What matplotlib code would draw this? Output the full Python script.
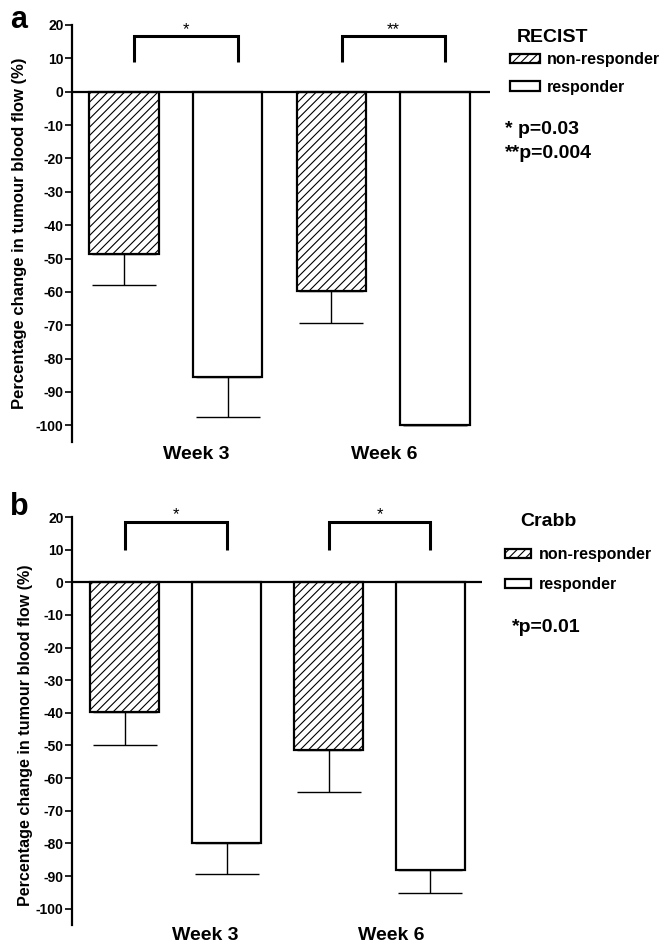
import matplotlib
matplotlib.use('Agg')
import matplotlib.pyplot as plt
import numpy as np

plt.rcParams['font.family'] = ['Liberation Sans', 'DejaVu Sans']
plt.rcParams['font.weight'] = 'bold'
plt.rcParams['hatch.linewidth'] = 0.8
plt.rcParams['axes.unicode_minus'] = False

weeks = ['Week 3', 'Week 6']
groups = ['non-responder', 'responder']
yticks = list(range(-100, 21, 10))

# panel a - RECIST
recist_nonresp = [-48.7, -59.7]
recist_nonresp_err = [9.2, 9.6]
recist_resp = [-85.5, -100.0]
recist_resp_err = [12.1, 0.0]
recist_stars = ['*', '**']
recist_pvals = ['* p=0.03', '**p=0.004']

# panel b - Crabb
crabb_nonresp = [-39.7, -51.3]
crabb_nonresp_err = [10.0, 12.8]
crabb_resp = [-79.8, -88.2]
crabb_resp_err = [9.5, 7.0]
crabb_stars = ['*', '*']
crabb_pvals = ['*p=0.01']


def draw_panel(ax, nonresp, nonresp_err, resp, resp_err, stars,
               xlim, br_top, br_leg, br_shift, week_shift, week_pad, ylabel_xy, ylabel_size):
    x = np.arange(len(weeks)) * 2.0
    w = 0.67
    zeros = np.zeros(len(x))
    ax.bar(x, nonresp, w, color='white', edgecolor='black', hatch='////',
           lw=1.6, label=groups[0], zorder=2)
    ax.bar(x + 1, resp, w, color='white', edgecolor='black',
           lw=1.6, label=groups[1], zorder=2)
    ax.errorbar(x, nonresp, yerr=[nonresp_err, zeros], fmt='none', ecolor='black',
                elinewidth=1.0, capsize=23, capthick=1.0, zorder=1)
    ax.errorbar(x + 1, resp, yerr=[resp_err, zeros], fmt='none', ecolor='black',
                elinewidth=1.0, capsize=23, capthick=1.0, zorder=1)
    ax.axhline(0, color='black', lw=1.6, zorder=3)

    # significance brackets
    for xi, s in zip(x, stars):
        x0, x1 = xi + br_shift, xi + 1 + br_shift
        ax.plot([x0, x0, x1, x1], [br_leg, br_top, br_top, br_leg], color='black',
                lw=2.2, clip_on=False, solid_capstyle='butt', solid_joinstyle='miter')
        ax.text((x0 + x1) / 2, br_top + 0.8, s, ha='center', va='baseline',
                fontsize=12, fontweight='normal', clip_on=False)

    ax.set_xlim(*xlim)
    ax.set_ylim(-105, 20)
    ax.set_yticks(yticks)
    ax.tick_params(axis='y', length=5, width=1.2, pad=1, labelsize=10)
    ax.set_xticks(x + 0.5 + np.array(week_shift))
    ax.set_xticklabels(weeks, fontsize=14, fontweight='bold')
    ax.tick_params(axis='x', length=0, pad=week_pad)
    for side in ['top', 'right', 'bottom']:
        ax.spines[side].set_visible(False)
    ax.spines['left'].set_linewidth(1.6)
    ax.set_ylabel('Percentage change in tumour blood flow (%)', fontsize=ylabel_size,
                  fontweight='bold')
    ax.yaxis.set_label_coords(*ylabel_xy)


W, H = 665, 946
fig = plt.figure(figsize=(W / 100, H / 100), dpi=100)
ax_a = fig.add_axes([72 / W, 1 - 442 / H, 418 / W, 417 / H])
ax_b = fig.add_axes([72 / W, 1 - 925 / H, 410 / W, 408 / H])

draw_panel(ax_a, recist_nonresp, recist_nonresp_err, recist_resp, recist_resp_err,
           recist_stars, (-0.5, 3.53), 16.6, 9.0, 0.1, [0.2, 0.01], 3.0,
           (-0.108, 0.5), 12)
draw_panel(ax_b, crabb_nonresp, crabb_nonresp_err, crabb_resp, crabb_resp_err,
           crabb_stars, (-0.515, 3.505), 18.4, 10.0, 0.0, [0.29, 0.12], 1.5,
           (-0.095, 0.466), 11.6)

# legends
ax_a.legend(loc='upper left', bbox_to_anchor=(510 / W, 1 - 52 / H),
            bbox_transform=fig.transFigure, frameon=False, borderpad=0,
            borderaxespad=0, handlelength=1.9, handleheight=0.55,
            handletextpad=0.4, labelspacing=0.8,
            prop=dict(weight='bold', size=11.5))
ax_b.legend(loc='upper left', bbox_to_anchor=(505 / W, 1 - 547 / H),
            bbox_transform=fig.transFigure, frameon=False, borderpad=0,
            borderaxespad=0, handlelength=1.6, handleheight=0.55,
            handletextpad=0.55, labelspacing=0.95,
            prop=dict(weight='bold', size=11.5))

fig.text(517 / W, 1 - 38 / H, 'RECIST', fontsize=14, fontweight='bold', va='center')
fig.text(505 / W, 1 - 129 / H, recist_pvals[0], fontsize=14, fontweight='bold', va='center')
fig.text(505 / W, 1 - 153 / H, recist_pvals[1], fontsize=14, fontweight='bold', va='center')
fig.text(520 / W, 1 - 521 / H, 'Crabb', fontsize=14, fontweight='bold', va='center')
fig.text(512 / W, 1 - 627 / H, crabb_pvals[0], fontsize=14, fontweight='bold', va='center')

fig.text(10 / W, 1 - 28 / H, 'a', fontsize=22, fontweight='bold', va='baseline')
fig.text(10 / W, 1 - 515 / H, 'b', fontsize=22, fontweight='bold', va='baseline')

fig.savefig('out.png', dpi=100)
